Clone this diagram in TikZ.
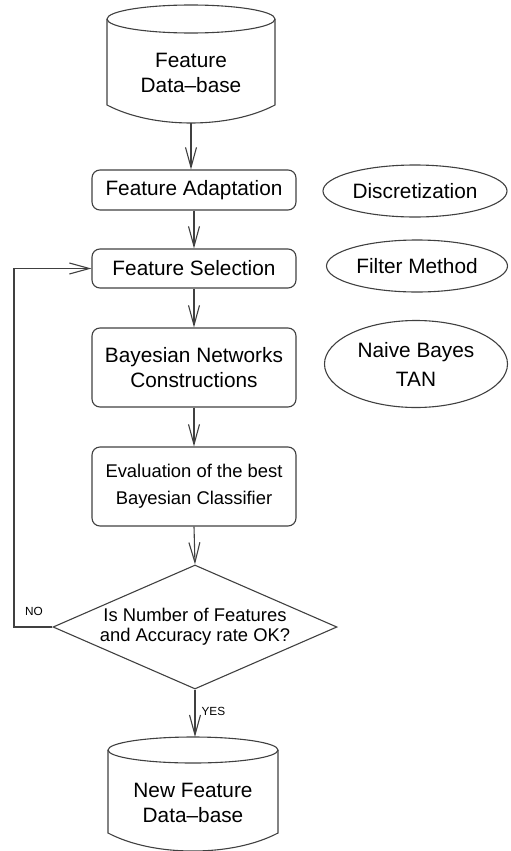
\documentclass[tikz,border=0pt]{standalone}
\usepackage{fontspec}
\setmainfont{Liberation Sans}
\usetikzlibrary{shapes.geometric,arrows.meta}
\begin{document}
\begin{tikzpicture}[x=0.5pt,y=-0.5pt,line width=0.55pt,
  big/.style={font=\fontsize{10.4}{12.8}\selectfont},
  mid/.style={font=\fontsize{9.2}{10.2}\selectfont},
  small/.style={font=\fontsize{5.9}{7}\selectfont},
  box/.style={draw=black!75, rounded corners=4pt, minimum width=102pt, inner sep=0pt, align=center},
  oval/.style={draw=black!75, ellipse, inner sep=0pt, align=center, big},
  cyl/.style={draw=black!75},
  txt/.style={align=center, inner sep=0pt},
  arr/.style={draw=black!75, -{Straight Barb[length=10pt,width=5.5pt]}},
  dia/.style={draw=black!75, diamond, aspect=2.29, inner sep=0pt, minimum width=142pt, minimum height=62pt, align=center, mid}
]
\useasboundingbox (0,0) rectangle (510,851);

% top cylinder
\draw[cyl] (107,19) -- (107,105) .. controls (130,117) and (160,123) .. (191,123) .. controls (222,123) and (252,117) .. (275,105) -- (275,19);
\draw[cyl] (191,19) ellipse [x radius=42pt, y radius=7pt];
\node[txt, big] (db1) at (191,73) {Feature\\Data--base};
\coordinate (db1b) at (191,123);

% boxes
\node[box, big, minimum height=20pt] (fa) at (194,190) {Feature Adaptation};
\node[box, big, minimum height=19.5pt] (fs) at (194,268.5) {Feature Selection};
\node[box, big, minimum height=39.5pt] (bn) at (194,367.5) {Bayesian Networks\\Constructions};
\node[box, mid, minimum height=39.5pt, font=\fontsize{9.2}{13.5}\selectfont] (ev) at (194,486.5) {Evaluation of the best\\Bayesian Classifier};

% ovals
\node[oval, minimum width=92pt, minimum height=26pt] (disc) at (415,191) {Discretization};
\node[oval, minimum width=90.5pt, minimum height=26pt] (filt) at (417,266) {Filter Method};
\node[oval, minimum width=91.5pt, minimum height=43.5pt, font=\fontsize{10.4}{14.5}\selectfont] (nb) at (416,364) {Naive Bayes\\TAN};

% decision
\node[dia] (dec) at (195,627) {Is Number of Features\\and Accuracy rate OK?};

% bottom cylinder
\draw[cyl] (108,750) -- (108,833) .. controls (131,845) and (161,851) .. (193,851) .. controls (225,851) and (255,845) .. (278,833) -- (278,750);
\draw[cyl] (193,750) ellipse [x radius=42.5pt, y radius=6.5pt];
\node[txt, big] (db2) at (193,803) {New Feature\\Data--base};
\coordinate (db2t) at (193,737);

% connectors
\draw[arr] (db1b) -- (db1b |- fa.north);
\draw[arr] (fa.south) -- (fs.north);
\draw[arr] (fs.south) -- (bn.north);
\draw[arr] (bn.south) -- (ev.north);
\draw[arr] (ev.south) -- (dec.north);
\draw[arr] (dec.south) -- (dec.south |- db2t);
\coordinate (loopx) at (14,0);
\draw[arr] (dec.west) -- (loopx |- dec.west) |- (fs.west);

% labels
\node[small, anchor=west, inner sep=0pt] (yes) at (201,711) {YES};
\node[small, inner sep=0pt] (no) at (34,611) {NO};
\end{tikzpicture}
\end{document}
